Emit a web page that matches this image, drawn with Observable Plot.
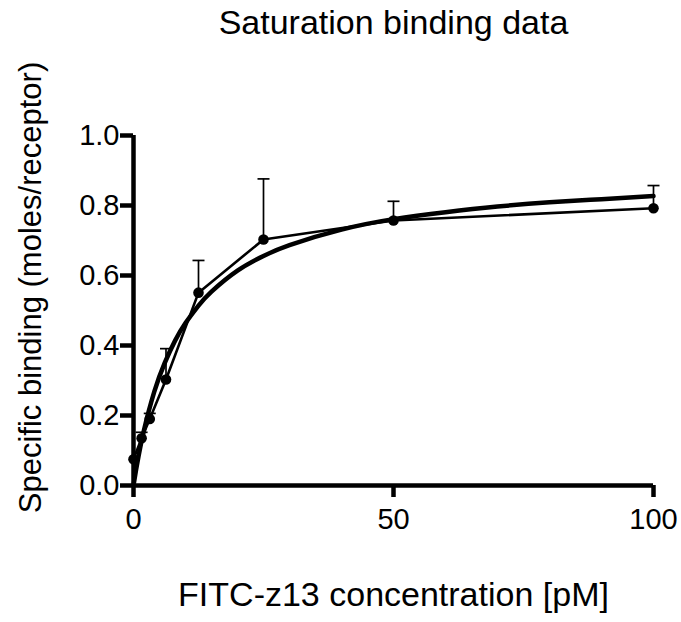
<!DOCTYPE html>
<html><head><meta charset="utf-8">
<script src="https://cdn.jsdelivr.net/npm/d3@7"></script>
<script src="https://cdn.jsdelivr.net/npm/@observablehq/plot@0.6"></script>
<style>body{margin:0;background:#fff}</style>
</head><body><div id="chart"></div>
<script>
const concentration = [0, 1.56, 3.125, 6.25, 12.5, 25, 50, 100];
const meanBinding = [0.075, 0.135, 0.19, 0.303, 0.551, 0.703, 0.757, 0.792];
const sdBinding = [0, 0.017, 0.016, 0.088, 0.092, 0.173, 0.055, 0.065];
const fitX = [0, 0.5, 1, 2, 4, 6, 8, 10, 12.5, 15, 20, 25, 30, 40, 50, 60, 70, 80, 90, 100];
const fitY = [0, 0.045, 0.086, 0.157, 0.268, 0.350, 0.414, 0.464, 0.514, 0.554, 0.614, 0.656, 0.687, 0.731, 0.761, 0.781, 0.797, 0.809, 0.818, 0.827];
const xTicks = [0, 50, 100];
const yTicks = [0, 0.2, 0.4, 0.6, 0.8, 1.0];
const titleText = ["Saturation binding data"];
const xLabel = ["FITC-z13 concentration [pM]"];
const yLabel = ["Specific binding (moles/receptor)"];

const points = concentration.map((c, i) => ({x: c, y: meanBinding[i], sd: sdBinding[i], top: meanBinding[i] + sdBinding[i]}));
const errPoints = points.filter(d => d.sd > 0);
const fit = fitX.map((x, i) => ({x, y: fitY[i]}));
const capSymbol = {draw(ctx) { ctx.moveTo(-6, 0); ctx.lineTo(6, 0); }};

const chart = Plot.plot({
  width: 681, height: 622,
  marginLeft: 133, marginRight: 28, marginTop: 135, marginBottom: 137,
  style: {fontFamily: "'Liberation Sans', Arial, sans-serif", fontSize: "29px", color: "#000", background: "#fff", overflow: "visible"},
  x: {domain: [0, 100]},
  y: {domain: [0, 1]},
  marks: [
    Plot.axisX({ticks: xTicks, tickSize: 12, tickPadding: 11, strokeWidth: 4.5, label: null, fontSize: 29}),
    Plot.axisY({ticks: yTicks, tickSize: 13, tickPadding: 1, strokeWidth: 4.5, label: null, fontSize: 29, tickFormat: d3.format(".1f")}),
    Plot.ruleX([0], {strokeWidth: 4.5}),
    Plot.ruleY([0], {strokeWidth: 4.5}),
    Plot.ruleX(errPoints, {x: "x", y1: "y", y2: "top", strokeWidth: 1.7}),
    Plot.dot(errPoints, {x: "x", y: "top", symbol: capSymbol, stroke: "#000", strokeWidth: 1.7, fill: "none"}),
    Plot.line(fit, {x: "x", y: "y", curve: "natural", strokeWidth: 4.5, stroke: "#000"}),
    Plot.line(points, {x: "x", y: "y", strokeWidth: 2.6, stroke: "#000"}),
    Plot.dot(points, {x: "x", y: "y", r: 5.3, fill: "#000", stroke: "none"}),
    Plot.text(titleText, {frameAnchor: "top", dy: -112, lineAnchor: "middle", textAnchor: "middle", fontSize: 34}),
    Plot.text(xLabel, {frameAnchor: "bottom", dy: 110, lineAnchor: "middle", textAnchor: "middle", fontSize: 34}),
    Plot.text(yLabel, {frameAnchor: "left", dx: -102, dy: -23, rotate: -90, lineAnchor: "middle", textAnchor: "middle", fontSize: 31})
  ]
});
document.getElementById("chart").append(chart);
</script>
</body></html>
